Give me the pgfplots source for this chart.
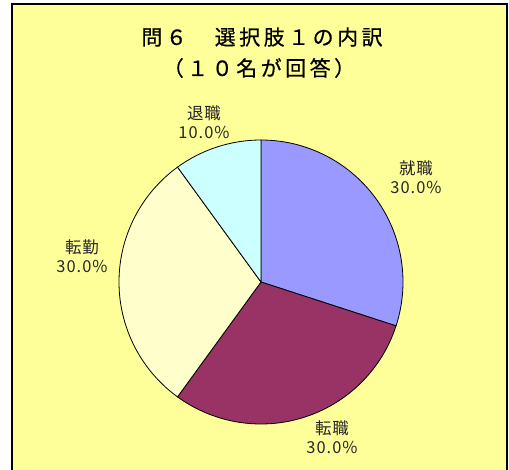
\documentclass[border=0pt]{standalone}
\usepackage{pgfplots}
\pgfplotsset{compat=1.18}
\usepackage{fontspec}
\setmainfont{Noto Sans CJK JP}
\newfontfamily\titlefont[LetterSpace=17,FakeBold=0.6]{Noto Sans CJK JP}
\newfontfamily\labfont[LetterSpace=6]{Noto Sans CJK JP}
\definecolor{bgy}{HTML}{FFFF99}
\definecolor{cA}{HTML}{9999FF}
\definecolor{cB}{HTML}{993366}
\definecolor{cC}{HTML}{FFFFCC}
\definecolor{cD}{HTML}{CCFFFF}
% values (percent)
\def\vA{30}\def\vB{30}\def\vC{30}\def\vD{10}%
\pgfmathsetmacro\aA{90}%
\pgfmathsetmacro\aB{\aA-3.6*\vA}%
\pgfmathsetmacro\aC{\aB-3.6*\vB}%
\pgfmathsetmacro\aD{\aC-3.6*\vC}%
\pgfmathsetmacro\aE{\aD-3.6*\vD}%
\def\R{142}%
\pgfkeys{/pgf/number format/.cd,fixed,fixed zerofill,precision=1,assume math mode=true}%
\begin{document}%
\begin{tikzpicture}
\begin{axis}[x=1bp,y=1bp,xmin=0,xmax=509,ymin=0,ymax=470,
  hide axis, clip=false, anchor=origin, at={(0,0)}]
\fill[white] (axis cs:0,0) rectangle (axis cs:509,470);
\fill[bgy] (axis cs:12,0) rectangle (axis cs:507,466);
\draw[black,line width=1.5bp] (axis cs:12,0) -- (axis cs:12,466) -- (axis cs:507,466) -- (axis cs:507,0);
% pie
\filldraw[fill=cA,draw=black,line width=0.8bp] (axis cs:261,188) -- (axis cs:{261+\R*cos(\aA)},{188+\R*sin(\aA)}) arc[start angle=\aA,end angle=\aB,radius=\R bp] -- cycle;
\filldraw[fill=cB,draw=black,line width=0.8bp] (axis cs:261,188) -- (axis cs:{261+\R*cos(\aB)},{188+\R*sin(\aB)}) arc[start angle=\aB,end angle=\aC,radius=\R bp] -- cycle;
\filldraw[fill=cC,draw=black,line width=0.8bp] (axis cs:261,188) -- (axis cs:{261+\R*cos(\aC)},{188+\R*sin(\aC)}) arc[start angle=\aC,end angle=\aD,radius=\R bp] -- cycle;
\filldraw[fill=cD,draw=black,line width=0.8bp] (axis cs:261,188) -- (axis cs:{261+\R*cos(\aD)},{188+\R*sin(\aD)}) arc[start angle=\aD,end angle=\aE,radius=\R bp] -- cycle;
% title
\node[font=\titlefont\fontsize{21}{25}\selectfont,text=black] at (axis cs:262,433) {問６　選択肢１の内訳};
\node[font=\titlefont\fontsize{21}{25}\selectfont,text=black] at (axis cs:259,402) {（１０名が回答）};
% labels
\node[font=\labfont\fontsize{16.5}{20}\selectfont,align=center,text=black!85] at (axis cs:416,293) {就職\\[-1bp]\pgfmathprintnumber{\vA}\%};
\node[font=\labfont\fontsize{16.5}{20}\selectfont,align=center,text=black!85] at (axis cs:332,33) {転職\\[-1bp]\pgfmathprintnumber{\vB}\%};
\node[font=\labfont\fontsize{16.5}{20}\selectfont,align=center,text=black!85] at (axis cs:82,214) {転勤\\[-1bp]\pgfmathprintnumber{\vC}\%};
\node[font=\labfont\fontsize{16.5}{20}\selectfont,align=center,text=black!85] at (axis cs:204,348) {退職\\[-1bp]\pgfmathprintnumber{\vD}\%};
\end{axis}
\pgfresetboundingbox
\path[use as bounding box] (0,0) rectangle (509bp,470bp);
\end{tikzpicture}%
\end{document}
